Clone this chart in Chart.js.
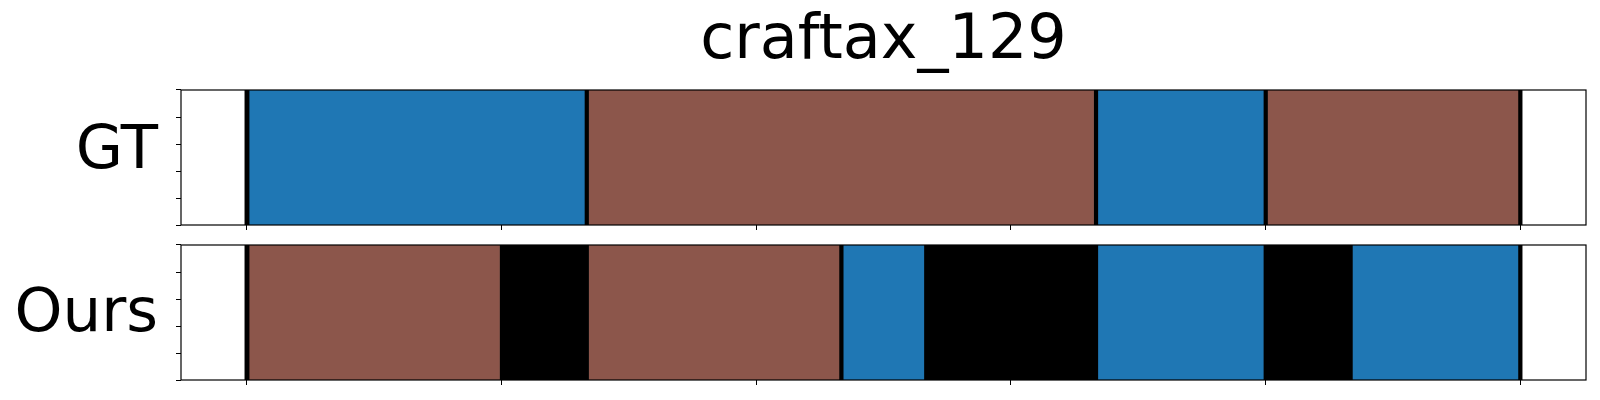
<!DOCTYPE html>
<html><head><meta charset="utf-8">
<script src="https://cdn.jsdelivr.net/npm/chart.js@4.4.1/dist/chart.umd.min.js"></script>
<style>
html,body{margin:0;padding:0;background:#fff;}
#wrap{position:relative;width:1600px;height:400px;overflow:hidden;}
canvas{position:absolute;left:0;}
</style></head><body>
<div id="wrap">
<canvas id="c1" width="1600" height="240" style="top:0px"></canvas>
<canvas id="c2" width="1600" height="165" style="top:235px"></canvas>
</div>
<script>
// ---- data ----
const chartTitle = 'craftax_129';
const rowLabels = ['GT', 'Ours'];
const xTicks = [0, 60, 120, 180, 240, 300];
const yTicks = [0, 1, 2, 3, 4];
const xMin = -15.55, xMax = 315.55;

// segments: first frame, last frame, class
const gtFirst = [0, 1, 80, 81, 200, 201, 240, 241, 300];
const gtLast  = [0, 79, 80, 199, 200, 239, 240, 299, 300];
const gtClass = ['K', 'A', 'K', 'B', 'K', 'A', 'K', 'B', 'K'];

const oursFirst = [0, 1, 60, 81, 140, 141, 160, 201, 240, 261, 300];
const oursLast  = [0, 59, 80, 139, 140, 159, 200, 239, 260, 299, 300];
const oursClass = ['K', 'B', 'K', 'B', 'K', 'A', 'K', 'A', 'K', 'A', 'K'];

// ---- styles ----
const classColors = { A: '#1f77b4', B: '#8c564b', K: '#000000' };
const FONT = 'DejaVu Sans';

const framePlugin = {
  id: 'frame',
  afterDraw(chart) {
    const { ctx, chartArea: a } = chart;
    ctx.save();
    ctx.strokeStyle = '#000';
    ctx.lineWidth = 1.2;
    ctx.strokeRect(a.left, a.top, a.right - a.left, a.bottom - a.top);
    ctx.restore();
  }
};

function makeChart(canvasId, label, first, last, cls, withTitle, padding, labelOffset) {
  const datasets = first.map((f, i) => ({
    data: [[f - 0.5, last[i] + 0.5]],
    backgroundColor: classColors[cls[i]],
    borderWidth: 0,
    stack: 'row',
    yAxisID: 'y',
    xAxisID: 'x',
    categoryPercentage: 1,
    barPercentage: 1
  }));
  return new Chart(document.getElementById(canvasId), {
    type: 'bar',
    data: { labels: [label], datasets },
    plugins: [framePlugin],
    options: {
      indexAxis: 'y',
      responsive: false,
      animation: false,
      devicePixelRatio: 1,
      layout: { padding },
      plugins: {
        legend: { display: false },
        tooltip: { enabled: false },
        title: {
          display: withTitle,
          fullSize: false,
          text: chartTitle,
          color: '#000',
          font: { family: FONT, size: 62, weight: 'normal', lineHeight: 1.2 },
          padding: { top: 4.6, bottom: 11 }
        }
      },
      scales: {
        x: {
          type: 'linear',
          position: 'bottom',
          min: xMin, max: xMax,
          stacked: false,
          afterBuildTicks: (s) => { s.ticks = xTicks.map(v => ({ value: v })); },
          afterFit: (s) => { s.height = 0; s.paddingLeft = 0; s.paddingRight = 0; },
          ticks: { display: false, autoSkip: false },
          grid: { display: true, drawOnChartArea: false, drawTicks: true, tickLength: 5, color: '#000', lineWidth: 1 },
          border: { display: false }
        },
        y: {
          type: 'category',
          display: false,
          offset: true
        },
        yt: {
          type: 'linear',
          position: 'left',
          min: 0, max: 4,
          afterBuildTicks: (s) => { s.ticks = yTicks.map(v => ({ value: v })); },
          afterFit: (s) => { s.width = 181; s.paddingTop = 0; s.paddingBottom = 0; },
          ticks: {
            autoSkip: false,
            color: '#000',
            padding: 18,
            labelOffset: labelOffset,
            font: { family: FONT, size: 61 },
            callback: (v) => (v === 2 ? label : '')
          },
          grid: { display: true, drawOnChartArea: false, drawTicks: true, tickLength: 5, color: '#000', lineWidth: 1 },
          border: { display: false }
        }
      }
    }
  });
}

makeChart('c1', rowLabels[0], gtFirst, gtLast, gtClass, true, { left: 0, right: 14, top: 0, bottom: 15 }, -5);
makeChart('c2', rowLabels[1], oursFirst, oursLast, oursClass, false, { left: 0, right: 14, top: 10, bottom: 20 }, 3);
</script>
</body></html>
